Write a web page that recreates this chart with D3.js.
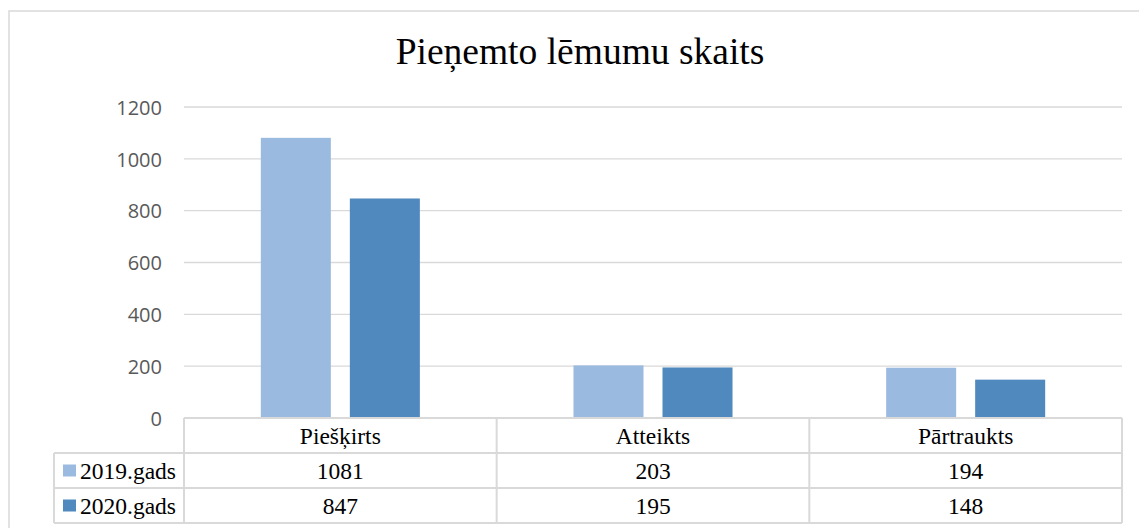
<!DOCTYPE html>
<html><head><meta charset="utf-8">
<script src="https://cdn.jsdelivr.net/npm/d3@7"></script>
<style>html,body{margin:0;padding:0;background:#fff;}svg{display:block;}</style>
</head><body>
<svg id="c" width="1139" height="528"></svg>
<script>
const categories = ["Piešķirts", "Atteikts", "Pārtraukts"];
const seriesNames = ["2019.gads", "2020.gads"];
const values2019 = [1081, 203, 194];
const values2020 = [847, 195, 148];
const yTicks = [0, 200, 400, 600, 800, 1000, 1200];
const colors = ["#9bbae0", "#4f89bd"];
const title = "Pieņemto lēmumu skaits";

const series = [values2019, values2020];
const svg = d3.select("#c");
const L = 184, R = 1122, T = 107, B = 418;
const rowH = 35;
const legendLeft = 54;
const grid = "#d9d9d9";

// outer frame
svg.append("rect").attr("x", 9).attr("y", 11).attr("width", 1200).attr("height", 600)
  .attr("fill", "none").attr("stroke", grid).attr("stroke-width", 1.5);

// title
svg.append("text").attr("x", 580).attr("y", 64).attr("text-anchor", "middle")
  .attr("font-family", "Liberation Serif, Times New Roman, serif").attr("font-size", 37.5)
  .attr("fill", "#000").text(title);

const y = d3.scaleLinear().domain([0, 1200]).range([B, T]);
const x0 = d3.scaleBand().domain(categories).range([L, R]).padding(0);
const x1 = d3.scaleBand().domain(seriesNames).range([0, x0.bandwidth()])
  .paddingInner(0.2135).paddingOuter(0.863);

// gridlines
svg.append("g").selectAll("line").data(yTicks).join("line")
  .attr("x1", L).attr("x2", R).attr("y1", d => y(d)).attr("y2", d => y(d))
  .attr("stroke", grid).attr("stroke-width", 1.3);

// y axis labels
const yAxis = d3.axisLeft(y).tickValues(yTicks).tickFormat(d3.format("d")).tickSize(0).tickPadding(0);
const ya = svg.append("g").attr("transform", `translate(162,0)`).call(yAxis);
ya.select(".domain").remove();
ya.selectAll("text").attr("font-family", "Open Sans, sans-serif").attr("font-size", 20)
  .attr("fill", "#595959").attr("dy", "0.36em");

// bars
series.forEach((vals, si) => {
  svg.append("g").selectAll("rect").data(vals).join("rect")
    .attr("x", (d, i) => x0(categories[i]) + x1(seriesNames[si]))
    .attr("width", x1.bandwidth())
    .attr("y", d => y(d))
    .attr("height", d => y(0) - y(d))
    .attr("fill", colors[si]);
});

// data table
const tg = svg.append("g").attr("stroke", grid).attr("stroke-width", 2);
const rowsY = [B, B + rowH, B + 2 * rowH, B + 3 * rowH];
tg.append("line").attr("x1", L).attr("x2", R).attr("y1", rowsY[0]).attr("y2", rowsY[0]);
[1, 2, 3].forEach(k => tg.append("line").attr("x1", legendLeft).attr("x2", R)
  .attr("y1", rowsY[k]).attr("y2", rowsY[k]));
tg.append("line").attr("x1", legendLeft).attr("x2", legendLeft).attr("y1", rowsY[1]).attr("y2", rowsY[3]);
const vx = categories.map(c => x0(c)).concat([R]);
vx.forEach(v => tg.append("line").attr("x1", v).attr("x2", v).attr("y1", rowsY[0]).attr("y2", rowsY[3]));

const serif = "Liberation Serif, Times New Roman, serif";
const fs = 23.5;
svg.append("g").selectAll("text").data(categories).join("text")
  .attr("x", d => x0(d) + x0.bandwidth() / 2).attr("y", (rowsY[0] + rowsY[1]) / 2)
  .attr("dy", "0.35em").attr("text-anchor", "middle")
  .attr("font-family", serif).attr("font-size", fs).attr("fill", "#000").text(d => d);

series.forEach((vals, si) => {
  const cy = (rowsY[si + 1] + rowsY[si + 2]) / 2;
  svg.append("g").selectAll("text").data(vals).join("text")
    .attr("x", (d, i) => x0(categories[i]) + x0.bandwidth() / 2).attr("y", cy)
    .attr("dy", "0.35em").attr("text-anchor", "middle")
    .attr("font-family", serif).attr("font-size", fs).attr("fill", "#000").text(d => d);
  svg.append("rect").attr("x", 63).attr("y", cy - 6).attr("width", 13).attr("height", 12)
    .attr("fill", colors[si]);
  svg.append("text").attr("x", 80).attr("y", cy).attr("dy", "0.35em")
    .attr("font-family", serif).attr("font-size", fs).attr("fill", "#000").text(seriesNames[si]);
});
</script>
</body></html>
